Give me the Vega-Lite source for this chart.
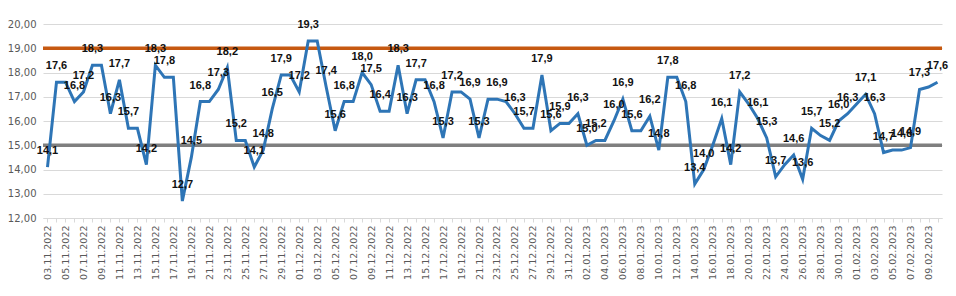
{
  "$schema": "https://vega.github.io/schema/vega-lite/v6.json",
  "width": 899,
  "height": 194,
  "padding": {"left": 0, "top": 18, "right": 14, "bottom": 5},
  "background": "white",
  "config": {
    "locale": {"number": {"decimal": ",", "thousands": " ", "grouping": [3], "currency": ["", ""]}},
    "view": {"stroke": null},
    "axis": {"labelFont": "DejaVu Sans", "labelFontSize": 10, "labelColor": "#595959"}
  },
  "datasets": {
    "series": [
      {"date": "03.11.2022", "v": 14.1, "labeled": true},
      {"date": "04.11.2022", "v": 17.6, "labeled": true},
      {"date": "05.11.2022", "v": 17.6, "labeled": false},
      {"date": "06.11.2022", "v": 16.8, "labeled": true},
      {"date": "07.11.2022", "v": 17.2, "labeled": true},
      {"date": "08.11.2022", "v": 18.3, "labeled": true},
      {"date": "09.11.2022", "v": 18.3, "labeled": false},
      {"date": "10.11.2022", "v": 16.3, "labeled": true},
      {"date": "11.11.2022", "v": 17.7, "labeled": true},
      {"date": "12.11.2022", "v": 15.7, "labeled": true},
      {"date": "13.11.2022", "v": 15.7, "labeled": false},
      {"date": "14.11.2022", "v": 14.2, "labeled": true},
      {"date": "15.11.2022", "v": 18.3, "labeled": true},
      {"date": "16.11.2022", "v": 17.8, "labeled": true},
      {"date": "17.11.2022", "v": 17.8, "labeled": false},
      {"date": "18.11.2022", "v": 12.7, "labeled": true},
      {"date": "19.11.2022", "v": 14.5, "labeled": true},
      {"date": "20.11.2022", "v": 16.8, "labeled": true},
      {"date": "21.11.2022", "v": 16.8, "labeled": false},
      {"date": "22.11.2022", "v": 17.3, "labeled": true},
      {"date": "23.11.2022", "v": 18.2, "labeled": true},
      {"date": "24.11.2022", "v": 15.2, "labeled": true},
      {"date": "25.11.2022", "v": 15.2, "labeled": false},
      {"date": "26.11.2022", "v": 14.1, "labeled": true},
      {"date": "27.11.2022", "v": 14.8, "labeled": true},
      {"date": "28.11.2022", "v": 16.5, "labeled": true},
      {"date": "29.11.2022", "v": 17.9, "labeled": true},
      {"date": "30.11.2022", "v": 17.9, "labeled": false},
      {"date": "01.12.2022", "v": 17.2, "labeled": true},
      {"date": "02.12.2022", "v": 19.3, "labeled": true},
      {"date": "03.12.2022", "v": 19.3, "labeled": false},
      {"date": "04.12.2022", "v": 17.4, "labeled": true},
      {"date": "05.12.2022", "v": 15.6, "labeled": true},
      {"date": "06.12.2022", "v": 16.8, "labeled": true},
      {"date": "07.12.2022", "v": 16.8, "labeled": false},
      {"date": "08.12.2022", "v": 18.0, "labeled": true},
      {"date": "09.12.2022", "v": 17.5, "labeled": true},
      {"date": "10.12.2022", "v": 16.4, "labeled": true},
      {"date": "11.12.2022", "v": 16.4, "labeled": false},
      {"date": "12.12.2022", "v": 18.3, "labeled": true},
      {"date": "13.12.2022", "v": 16.3, "labeled": true},
      {"date": "14.12.2022", "v": 17.7, "labeled": true},
      {"date": "15.12.2022", "v": 17.7, "labeled": false},
      {"date": "16.12.2022", "v": 16.8, "labeled": true},
      {"date": "17.12.2022", "v": 15.3, "labeled": true},
      {"date": "18.12.2022", "v": 17.2, "labeled": true},
      {"date": "19.12.2022", "v": 17.2, "labeled": false},
      {"date": "20.12.2022", "v": 16.9, "labeled": true},
      {"date": "21.12.2022", "v": 15.3, "labeled": true},
      {"date": "22.12.2022", "v": 16.9, "labeled": false},
      {"date": "23.12.2022", "v": 16.9, "labeled": true},
      {"date": "24.12.2022", "v": 16.8, "labeled": false},
      {"date": "25.12.2022", "v": 16.3, "labeled": true},
      {"date": "26.12.2022", "v": 15.7, "labeled": true},
      {"date": "27.12.2022", "v": 15.7, "labeled": false},
      {"date": "28.12.2022", "v": 17.9, "labeled": true},
      {"date": "29.12.2022", "v": 15.6, "labeled": true},
      {"date": "30.12.2022", "v": 15.9, "labeled": true},
      {"date": "31.12.2022", "v": 15.9, "labeled": false},
      {"date": "01.01.2023", "v": 16.3, "labeled": true},
      {"date": "02.01.2023", "v": 15.0, "labeled": true},
      {"date": "03.01.2023", "v": 15.2, "labeled": true},
      {"date": "04.01.2023", "v": 15.2, "labeled": false},
      {"date": "05.01.2023", "v": 16.0, "labeled": true},
      {"date": "06.01.2023", "v": 16.9, "labeled": true},
      {"date": "07.01.2023", "v": 15.6, "labeled": true},
      {"date": "08.01.2023", "v": 15.6, "labeled": false},
      {"date": "09.01.2023", "v": 16.2, "labeled": true},
      {"date": "10.01.2023", "v": 14.8, "labeled": true},
      {"date": "11.01.2023", "v": 17.8, "labeled": true},
      {"date": "12.01.2023", "v": 17.8, "labeled": false},
      {"date": "13.01.2023", "v": 16.8, "labeled": true},
      {"date": "14.01.2023", "v": 13.4, "labeled": true},
      {"date": "15.01.2023", "v": 14.0, "labeled": true},
      {"date": "16.01.2023", "v": 15.0, "labeled": false},
      {"date": "17.01.2023", "v": 16.1, "labeled": true},
      {"date": "18.01.2023", "v": 14.2, "labeled": true},
      {"date": "19.01.2023", "v": 17.2, "labeled": true},
      {"date": "20.01.2023", "v": 16.7, "labeled": false},
      {"date": "21.01.2023", "v": 16.1, "labeled": true},
      {"date": "22.01.2023", "v": 15.3, "labeled": true},
      {"date": "23.01.2023", "v": 13.7, "labeled": true},
      {"date": "24.01.2023", "v": 14.2, "labeled": false},
      {"date": "25.01.2023", "v": 14.6, "labeled": true},
      {"date": "26.01.2023", "v": 13.6, "labeled": true},
      {"date": "27.01.2023", "v": 15.7, "labeled": true},
      {"date": "28.01.2023", "v": 15.4, "labeled": false},
      {"date": "29.01.2023", "v": 15.2, "labeled": true},
      {"date": "30.01.2023", "v": 16.0, "labeled": true},
      {"date": "31.01.2023", "v": 16.3, "labeled": true},
      {"date": "01.02.2023", "v": 16.7, "labeled": false},
      {"date": "02.02.2023", "v": 17.1, "labeled": true},
      {"date": "03.02.2023", "v": 16.3, "labeled": true},
      {"date": "04.02.2023", "v": 14.7, "labeled": true},
      {"date": "05.02.2023", "v": 14.8, "labeled": false},
      {"date": "06.02.2023", "v": 14.8, "labeled": true},
      {"date": "07.02.2023", "v": 14.9, "labeled": true},
      {"date": "08.02.2023", "v": 17.3, "labeled": true},
      {"date": "09.02.2023", "v": 17.4, "labeled": false},
      {"date": "10.02.2023", "v": 17.6, "labeled": true}
    ],
    "refs": [
      {"level": 19, "kind": "upper"},
      {"level": 15, "kind": "lower"}
    ]
  },
  "layer": [
    {
      "data": {"name": "refs"},
      "mark": {"type": "rule", "strokeWidth": 3.5},
      "encoding": {
        "y": {"field": "level", "type": "quantitative", "scale": {"domain": [12, 20]}},
        "color": {"field": "kind", "type": "nominal", "scale": {"domain": ["upper", "lower"], "range": ["#C65911", "#7F7F7F"]}, "legend": null}
      }
    },
    {
      "data": {"name": "series"},
      "mark": {"type": "line", "color": "#2E75B6", "strokeWidth": 3, "strokeJoin": "miter"},
      "encoding": {
        "x": {
          "field": "date", "type": "ordinal", "sort": null,
          "scale": {"type": "point", "padding": 0.5},
          "axis": {
            "title": null, "labelAngle": -90, "labelAlign": "right", "labelBaseline": "middle",
            "labelPadding": 3, "tickSize": 4, "tickColor": "#D9D9D9", "domainColor": "#D9D9D9",
            "labelFontSize": 9.5,
            "labelExpr": "round(datum.index * 99) % 2 === 0 ? datum.label : ''"
          }
        },
        "y": {
          "field": "v", "type": "quantitative",
          "scale": {"domain": [12, 20], "nice": false, "zero": false},
          "axis": {
            "title": null, "tickCount": 8, "format": ".2f", "domain": false, "ticks": false,
            "labelPadding": 7, "minExtent": 43, "maxExtent": 43,
            "gridColor": "#D9D9D9", "gridWidth": 1
          }
        }
      }
    },
    {
      "data": {"name": "series"},
      "transform": [{"filter": "datum.labeled"}],
      "mark": {"type": "text", "dy": -16, "font": "Liberation Sans", "fontSize": 11, "fontWeight": "bold", "color": "#111111"},
      "encoding": {
        "x": {"field": "date", "type": "ordinal", "sort": null},
        "y": {"field": "v", "type": "quantitative"},
        "text": {"field": "v", "type": "quantitative", "format": ".1f"}
      }
    }
  ]
}
